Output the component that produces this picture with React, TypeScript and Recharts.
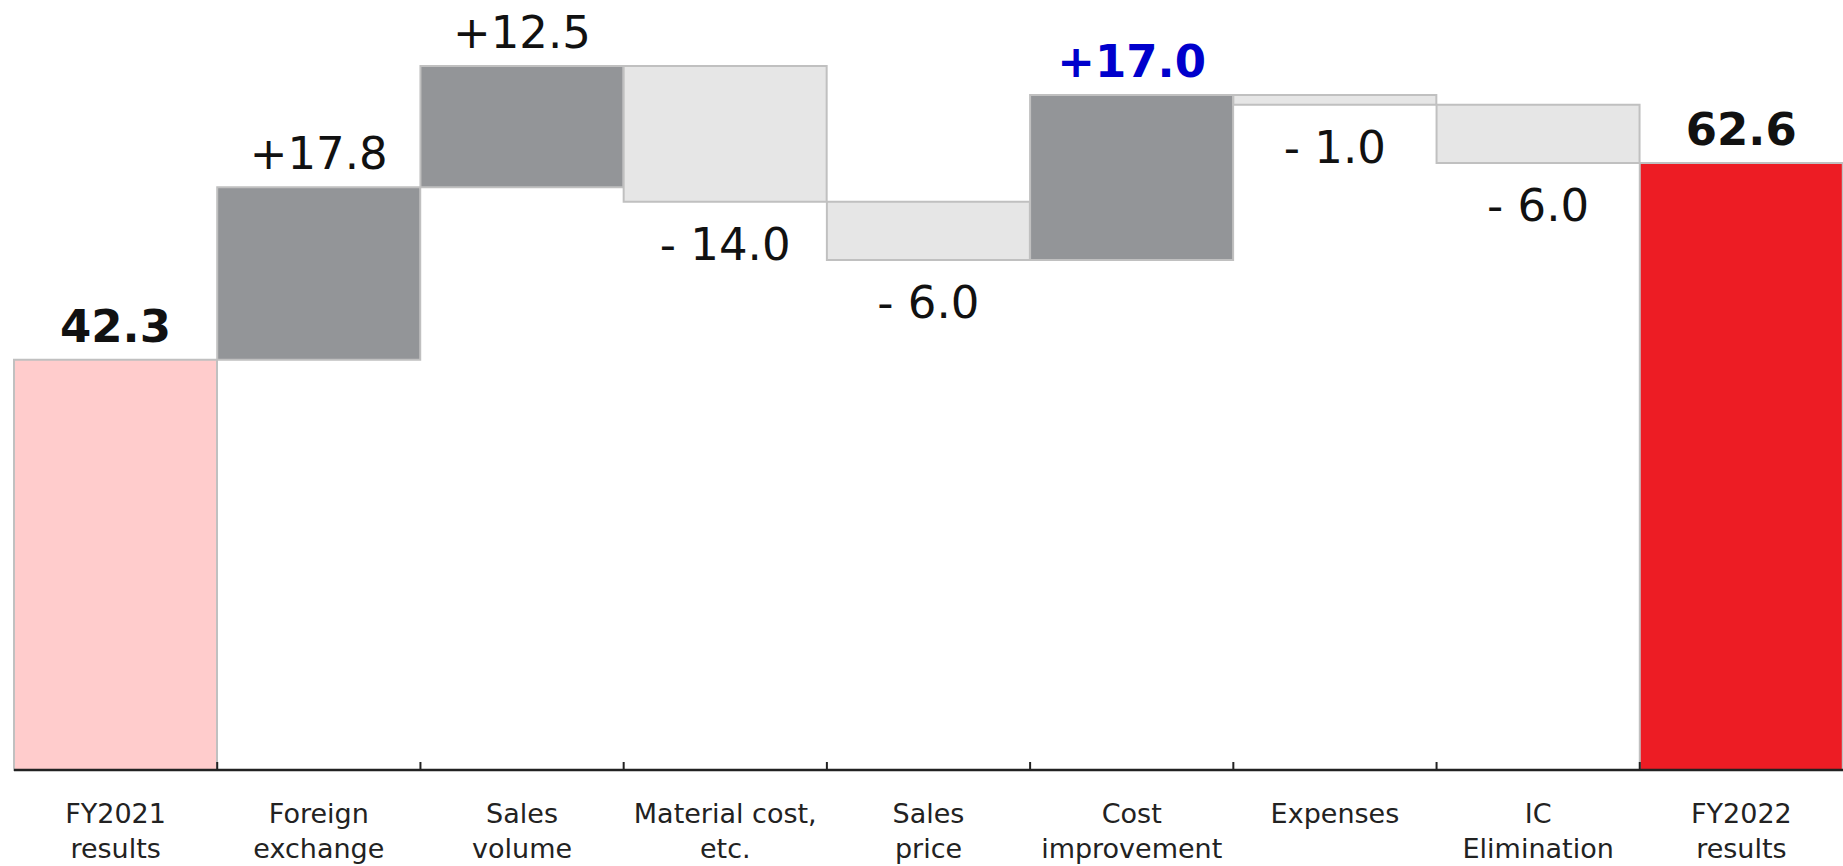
import React from 'react';
import { BarChart, Bar, XAxis, YAxis, Cell, LabelList } from 'recharts';

const CATEGORIES = [
  'FY2021\nresults',
  'Foreign\nexchange',
  'Sales\nvolume',
  'Material cost,\netc.',
  'Sales\nprice',
  'Cost\nimprovement',
  'Expenses',
  'IC\nElimination',
  'FY2022\nresults',
];
const CHANGES = [42.3, 17.8, 12.5, -14.0, -6.0, 17.0, -1.0, -6.0, 62.6];
const KINDS = ['start', 'up', 'up', 'down', 'down', 'up', 'down', 'down', 'end'];
const HIGHLIGHT_INDEX = 5;

const WIDTH = 1843;
const HEIGHT = 866;
const MARGIN = { top: 0, right: 0, bottom: 0, left: 14 };
const FONT = '"DejaVu Sans", Verdana, sans-serif';

const FILLS: Record<string, string> = {
  start: '#ffcccc',
  up: '#939598',
  down: '#e6e6e6',
  end: '#ed1c24',
};

// invisible base + visible size, the usual waterfall trick
const data = (() => {
  let running = 0;
  return CATEGORIES.map((name, i) => {
    const kind = KINDS[i];
    const change = CHANGES[i];
    let base = 0;
    let size = change;
    if (kind === 'up' || kind === 'down') {
      const next = running + change;
      base = Math.min(running, next);
      size = Math.abs(change);
      running = next;
    } else {
      running = change;
    }
    return { name, kind, change, base, size };
  });
})();

const labelText = (kind: string, change: number) => {
  if (kind === 'up') return '+' + change.toFixed(1);
  if (kind === 'down') return '- ' + Math.abs(change).toFixed(1);
  return change.toFixed(1);
};

const ValueLabel = (props: any) => {
  const box = props.viewBox || props;
  const { x, y, width, height } = box;
  const i = props.index;
  const row = data[i];
  if (!row) return null;
  const cx = x + width / 2;
  const below = row.kind === 'down';
  const bold = row.kind === 'start' || row.kind === 'end' || i === HIGHLIGHT_INDEX;
  return (
    <text
      x={cx}
      y={below ? y + height + 58 : y - 18}
      textAnchor="middle"
      fontFamily={FONT}
      fontSize={45}
      fontWeight={bold ? 'bold' : 'normal'}
      fill={i === HIGHLIGHT_INDEX ? '#0000cc' : '#111'}
    >
      {labelText(row.kind, row.change)}
    </text>
  );
};

const band = (WIDTH - MARGIN.left - MARGIN.right) / CATEGORIES.length;

const CategoryTick = (props: any) => {
  const { x, y, payload, index } = props;
  const lines = String(payload.value).split('\n');
  return (
    <g>
      {index > 0 && (
        <line x1={x - band / 2} x2={x - band / 2} y1={y - 8} y2={y} stroke="#222" strokeWidth={2} />
      )}
      <text x={x} y={y} textAnchor="middle" fontFamily={FONT} fontSize={27} fill="#222">
        {lines.map((l, k) => (
          <tspan key={k} x={x} y={y + 53 + k * 35}>
            {l}
          </tspan>
        ))}
      </text>
    </g>
  );
};

export default function App() {
  return (
    <div style={{ position: 'absolute', left: 0, top: 0, background: '#fff' }}>
      <BarChart width={WIDTH} height={HEIGHT} data={data} margin={MARGIN} barCategoryGap={0}>
        <XAxis
          dataKey="name"
          interval={0}
          height={96}
          tickLine={false}
          tickSize={0}
          tickMargin={0}
          axisLine={{ stroke: '#222', strokeWidth: 2.5 }}
          tick={<CategoryTick />}
        />
        <YAxis hide domain={[0, 79.4]} />
        <Bar dataKey="base" stackId="w" fill="transparent" isAnimationActive={false} />
        <Bar dataKey="size" stackId="w" stroke="#c0c0c0" strokeWidth={2} isAnimationActive={false}>
          {data.map((d, i) => (
            <Cell key={i} fill={FILLS[d.kind]} />
          ))}
          <LabelList dataKey="size" content={<ValueLabel />} />
        </Bar>
      </BarChart>
    </div>
  );
}
